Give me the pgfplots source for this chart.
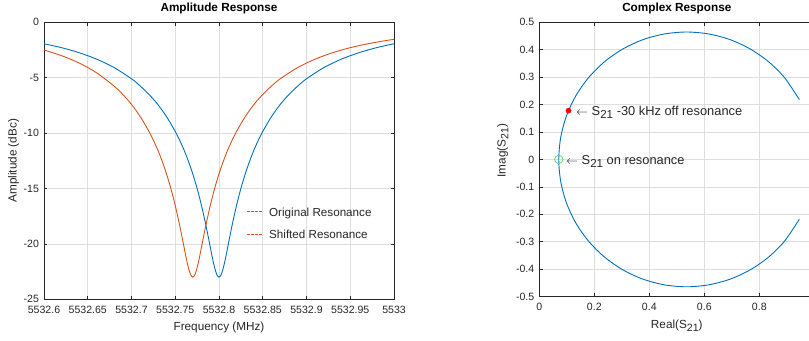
\documentclass[border=0pt]{standalone}
\usepackage{fontspec}
\setmainfont{Liberation Sans}
\usepackage{graphicx}
\usepackage{pgfplots}
\pgfplotsset{compat=1.18}
\definecolor{mblue}{rgb}{0,0.447,0.741}
\definecolor{morange}{rgb}{0.851,0.325,0.098}
\definecolor{axgray}{rgb}{0.15,0.15,0.15}
\definecolor{gridgray}{rgb}{0.87,0.87,0.87}
\definecolor{mgreen}{rgb}{0.25,0.92,0.25}
\definecolor{legblue}{rgb}{0.3,0.4,1}
\definecolor{legred}{rgb}{1,0.25,0.25}
\newcommand\sub[1]{\raisebox{-0.45ex}{\scalebox{0.9}{#1}}}
\pgfplotsset{mstyle/.style={
  scale only axis,
  axis line style={axgray, line width=0.6bp},
  every tick/.style={axgray, line width=0.6bp},
  tick align=inside, major tick length=3.5bp,
  grid=major, major grid style={gridgray, line width=0.6bp},
  ticklabel style={font=\fontsize{10.6}{12}\selectfont, text=axgray},
  xticklabel style={yshift=-3bp},
  yticklabel style={xshift=-1.5bp},
  /pgf/number format/assume math mode=true,
  label style={font=\fontsize{11.8}{13}\selectfont, text=axgray},
  title style={font=\fontsize{11.8}{13}\selectfont\bfseries, text=black, anchor=base},
}}
\begin{document}
\begin{tikzpicture}
\useasboundingbox (0bp,0bp) rectangle (809bp,341bp);
% x = frequency - 5532.6 MHz
\begin{axis}[mstyle, at={(44bp,41.7bp)}, anchor=south west,
  width=350bp, height=277bp,
  xmin=0, xmax=0.4, ymin=-25, ymax=0,
  xtick={0,0.05,0.1,0.15,0.2,0.25,0.3,0.35,0.4},
  xticklabels={5532.6,5532.65,5532.7,5532.75,5532.8,5532.85,5532.9,5532.95,5533},
  ytick={-25,-20,-15,-10,-5,0},
  title={Amplitude Response},
  title style={at={(axis description cs:0.5,1.019)}},
  xlabel={Frequency (MHz)},
  xlabel style={at={(axis description cs:0.5,-0.1144)}, anchor=base},
  ylabel={Amplitude (dBc)},
  ylabel style={at={(axis description cs:-0.078,0.5)}, anchor=base},
]
\addplot[mblue, line width=0.9bp, smooth] coordinates {
(0.00,-1.94) (0.02,-2.29) (0.04,-2.74) (0.06,-3.32) (0.08,-4.08) (0.10,-5.10) (0.11,-5.75) (0.12,-6.51) (0.13,-7.41) (0.14,-8.51) (0.15,-9.85) (0.155,-10.64) (0.16,-11.52) (0.165,-12.53) (0.17,-13.68) (0.175,-15.00) (0.18,-16.54) (0.185,-18.31) (0.1875,-19.28) (0.19,-20.28) (0.1925,-21.27) (0.195,-22.14) (0.1975,-22.77) (0.2,-23.00) (0.2025,-22.77) (0.205,-22.14) (0.2075,-21.27) (0.21,-20.28) (0.2125,-19.28) (0.215,-18.31) (0.22,-16.54) (0.225,-15.00) (0.23,-13.68) (0.235,-12.53) (0.24,-11.52) (0.245,-10.64) (0.25,-9.85) (0.26,-8.51) (0.27,-7.41) (0.28,-6.51) (0.29,-5.75) (0.30,-5.10) (0.32,-4.08) (0.34,-3.32) (0.36,-2.74) (0.38,-2.29) (0.40,-1.94)
};
\addplot[morange, line width=0.9bp, smooth] coordinates {
(0.00,-2.50) (0.02,-3.01) (0.04,-3.67) (0.06,-4.55) (0.08,-5.75) (0.09,-6.51) (0.10,-7.41) (0.11,-8.51) (0.12,-9.85) (0.125,-10.64) (0.13,-11.52) (0.135,-12.53) (0.14,-13.68) (0.145,-15.00) (0.15,-16.54) (0.155,-18.31) (0.1575,-19.28) (0.16,-20.28) (0.1625,-21.27) (0.165,-22.14) (0.1675,-22.77) (0.17,-23.00) (0.1725,-22.77) (0.175,-22.14) (0.1775,-21.27) (0.18,-20.28) (0.1825,-19.28) (0.185,-18.31) (0.19,-16.54) (0.195,-15.00) (0.2,-13.68) (0.205,-12.53) (0.21,-11.52) (0.215,-10.64) (0.22,-9.85) (0.23,-8.51) (0.24,-7.41) (0.25,-6.51) (0.26,-5.75) (0.27,-5.10) (0.29,-4.08) (0.31,-3.32) (0.33,-2.74) (0.35,-2.29) (0.37,-1.94) (0.39,-1.66) (0.40,-1.54)
};
% legend samples (Original / Shifted Resonance)
\addplot[legblue, line width=1bp, dash pattern=on 2.6bp off 1.4bp] coordinates {(0.232,-17.12) (0.2491,-17.12)};
\addplot[legred, line width=1bp, dash pattern=on 2.6bp off 1.4bp] coordinates {(0.232,-19.11) (0.2491,-19.11)};
\node[anchor=base west, inner sep=0pt, yshift=-4.2bp, text=axgray, font=\fontsize{11.7}{13}\selectfont] at (axis cs:0.2571,-17.12) {Original Resonance};
\node[anchor=base west, inner sep=0pt, yshift=-4.2bp, text=axgray, font=\fontsize{11.7}{13}\selectfont] at (axis cs:0.2571,-19.11) {Shifted Resonance};
\end{axis}
\begin{axis}[mstyle, at={(539.3bp,44.5bp)}, anchor=south west,
  width=275bp, height=274.2bp,
  xmin=0, xmax=1, ymin=-0.5, ymax=0.5,
  xtick={0,0.2,0.4,0.6,0.8},
  extra x ticks={1}, extra x tick labels={},
  ytick={-0.5,-0.4,-0.3,-0.2,-0.1,0,0.1,0.2,0.3,0.4,0.5},
  yticklabel style={/pgf/number format/fixed},
  title={Complex Response},
  title style={at={(axis description cs:0.5,1.0193)}},
  xlabel={Real(S\sub{21})},
  xlabel style={at={(axis description cs:0.5,-0.1185)}, anchor=base},
  ylabel={Imag(S\sub{21})},
  ylabel style={at={(axis description cs:-0.1222,0.532)}, anchor=base},
]
\addplot[mblue, line width=0.9bp, smooth] coordinates {
(0.9456,0.2181) (0.8913,0.2986) (0.8340,0.3559) (0.7677,0.4023) (0.6943,0.4366) (0.6161,0.4575) (0.5354,0.4646) (0.4547,0.4575) (0.3765,0.4366) (0.3031,0.4023) (0.2368,0.3559) (0.1795,0.2986) (0.1330,0.2323) (0.0988,0.1589) (0.0779,0.0807) (0.0708,0) (0.0779,-0.0807) (0.0988,-0.1589) (0.1330,-0.2323) (0.1795,-0.2986) (0.2368,-0.3559) (0.3031,-0.4023) (0.3765,-0.4366) (0.4547,-0.4575) (0.5354,-0.4646) (0.6161,-0.4575) (0.6943,-0.4366) (0.7677,-0.4023) (0.8340,-0.3559) (0.8913,-0.2986) (0.9456,-0.2181)
};
\addplot[only marks, mark=*, mark size=2.6bp, mark options={draw=red, fill=red}] coordinates {(0.1062,0.1778)};
\addplot[only marks, mark=o, mark size=4.2bp, mark options={draw=mgreen, line width=0.7bp}] coordinates {(0.0708,0)};
\node[anchor=base west, inner sep=0pt, yshift=-4.6bp, text=axgray, font=\fontsize{12.9}{14}\selectfont] at (axis cs:0.1335,0.1778) {$\leftarrow$ S\sub{21} -30 kHz off resonance};
\node[anchor=base west, inner sep=0pt, yshift=-4.6bp, text=axgray, font=\fontsize{12.9}{14}\selectfont] at (axis cs:0.097,0) {$\leftarrow$ S\sub{21} on resonance};
\end{axis}
\end{tikzpicture}
\end{document}
